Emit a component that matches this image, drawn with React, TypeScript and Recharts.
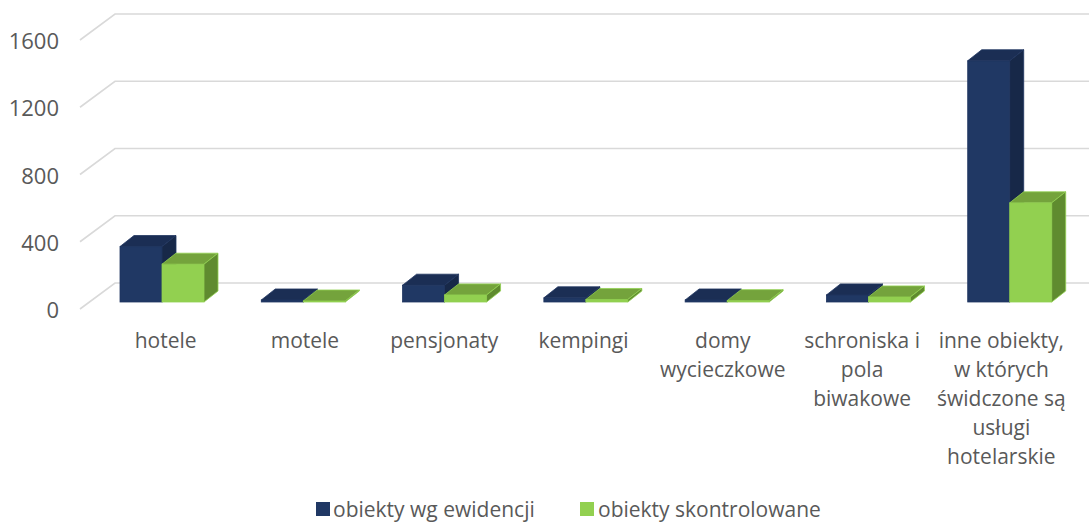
import React from 'react';
import { BarChart, Bar, XAxis, YAxis, CartesianGrid } from 'recharts';

const categories = [
  'hotele',
  'motele',
  'pensjonaty',
  'kempingi',
  'domy\nwycieczkowe',
  'schroniska i\npola\nbiwakowe',
  'inne obiekty,\nw których\nświdczone są\nusługi\nhotelarskie',
];
const ewidencja = [330, 12, 100, 25, 12, 42, 1435];
const skontrolowane = [225, 6, 42, 15, 8, 30, 590];
const yTicks = [0, 400, 800, 1200, 1600];
const seriesNames = ['obiekty wg ewidencji', 'obiekty skontrolowane'];

const data = categories.map((name, i) => ({
  name,
  ewidencja: ewidencja[i],
  skontrolowane: skontrolowane[i],
}));

const DX = 14;
const DY = -11;
const FONT = '"Open Sans", sans-serif';
const TEXT = '#595959';

const makeBox = (front: string, top: string, side: string, edge: string) => (p: any) => {
  const { x, y, width: w, height: h } = p;
  const hh = Math.max(h, 0.5);
  return (
    <g>
      <rect x={x} y={y} width={w} height={hh} fill={front} stroke={edge} strokeWidth={0.8} />
      <polygon
        points={`${x},${y} ${x + DX},${y + DY} ${x + w + DX},${y + DY} ${x + w},${y}`}
        fill={top}
        stroke={edge}
        strokeWidth={0.8}
        strokeLinejoin="round"
      />
      <polygon
        points={`${x + w},${y} ${x + w + DX},${y + DY} ${x + w + DX},${y + hh + DY} ${x + w},${y + hh}`}
        fill={side}
        stroke={edge}
        strokeWidth={0.8}
        strokeLinejoin="round"
      />
    </g>
  );
};

const DarkBox = makeBox('#203864', '#1b2e54', '#172848', '#1f3560');
const GreenBox = makeBox('#92d050', '#74a33c', '#5f8b2f', '#92d050');

const YTick = (p: any) => {
  const { y, payload } = p;
  return (
    <text x={59} y={y + 7} textAnchor="end" dominantBaseline="central" fill={TEXT} fontSize={22} fontFamily={FONT}>
      {payload.value}
    </text>
  );
};

const XTick = (p: any) => {
  const { x, y, payload, index } = p;
  const lines = String(payload.value).split('\n');
  const cx = x + 4 - index * 2;
  return (
    <g>
      {lines.map((l: string, i: number) => (
        <text
          key={i}
          x={cx}
          y={y + 38 + i * 29}
          textAnchor="middle"
          dominantBaseline="central"
          fill={TEXT}
          fontSize={21}
          fontFamily={FONT}
        >
          {l}
        </text>
      ))}
    </g>
  );
};

const gridLine = (p: any) => (
  <polyline
    key={p.key}
    points={`${p.x1 - 11},${p.y1 + 7} ${p.x1 + 24},${p.y1 - 19} ${p.x2 + 9},${p.y1 - 19}`}
    stroke="#d9d9d9"
    strokeWidth={1.6}
    fill="none"
  />
);

export default function App() {
  return (
    <div style={{ position: 'absolute', left: 0, top: 0, width: 1089, height: 524, background: '#fff', fontFamily: FONT, overflow: 'hidden' }}>
      <BarChart
        width={1089}
        height={524}
        data={data}
        margin={{ top: 33, right: 9, bottom: 32, left: 0 }}
        barSize={42}
        barGap={0}
      >
        <CartesianGrid vertical={false} horizontal={gridLine} />
        <YAxis
          domain={[0, 1600]}
          ticks={yTicks}
          width={91}
          axisLine={false}
          tickLine={false}
          tick={<YTick />}
          interval={0}
        />
        <XAxis
          dataKey="name"
          height={190}
          axisLine={false}
          tickLine={false}
          tickSize={0}
          tickMargin={0}
          interval={0}
          tick={<XTick />}
        />
        <Bar dataKey="ewidencja" name={seriesNames[0]} fill="#203864" shape={DarkBox} isAnimationActive={false} />
        <Bar dataKey="skontrolowane" name={seriesNames[1]} fill="#92d050" shape={GreenBox} isAnimationActive={false} />
      </BarChart>
      <div
        style={{
          position: 'absolute',
          left: 316,
          top: 497,
          display: 'flex',
          alignItems: 'center',
          fontSize: 21,
          lineHeight: '24px',
          color: TEXT,
          whiteSpace: 'nowrap',
        }}
      >
        <div style={{ display: 'flex', alignItems: 'center', width: 264 }}>
          <span style={{ width: 14, height: 14, background: '#203864', marginRight: 3, display: 'inline-block' }} />
          <span>{seriesNames[0]}</span>
        </div>
        <div style={{ display: 'flex', alignItems: 'center' }}>
          <span style={{ width: 14, height: 14, background: '#92d050', marginRight: 4, display: 'inline-block' }} />
          <span>{seriesNames[1]}</span>
        </div>
      </div>
    </div>
  );
}
